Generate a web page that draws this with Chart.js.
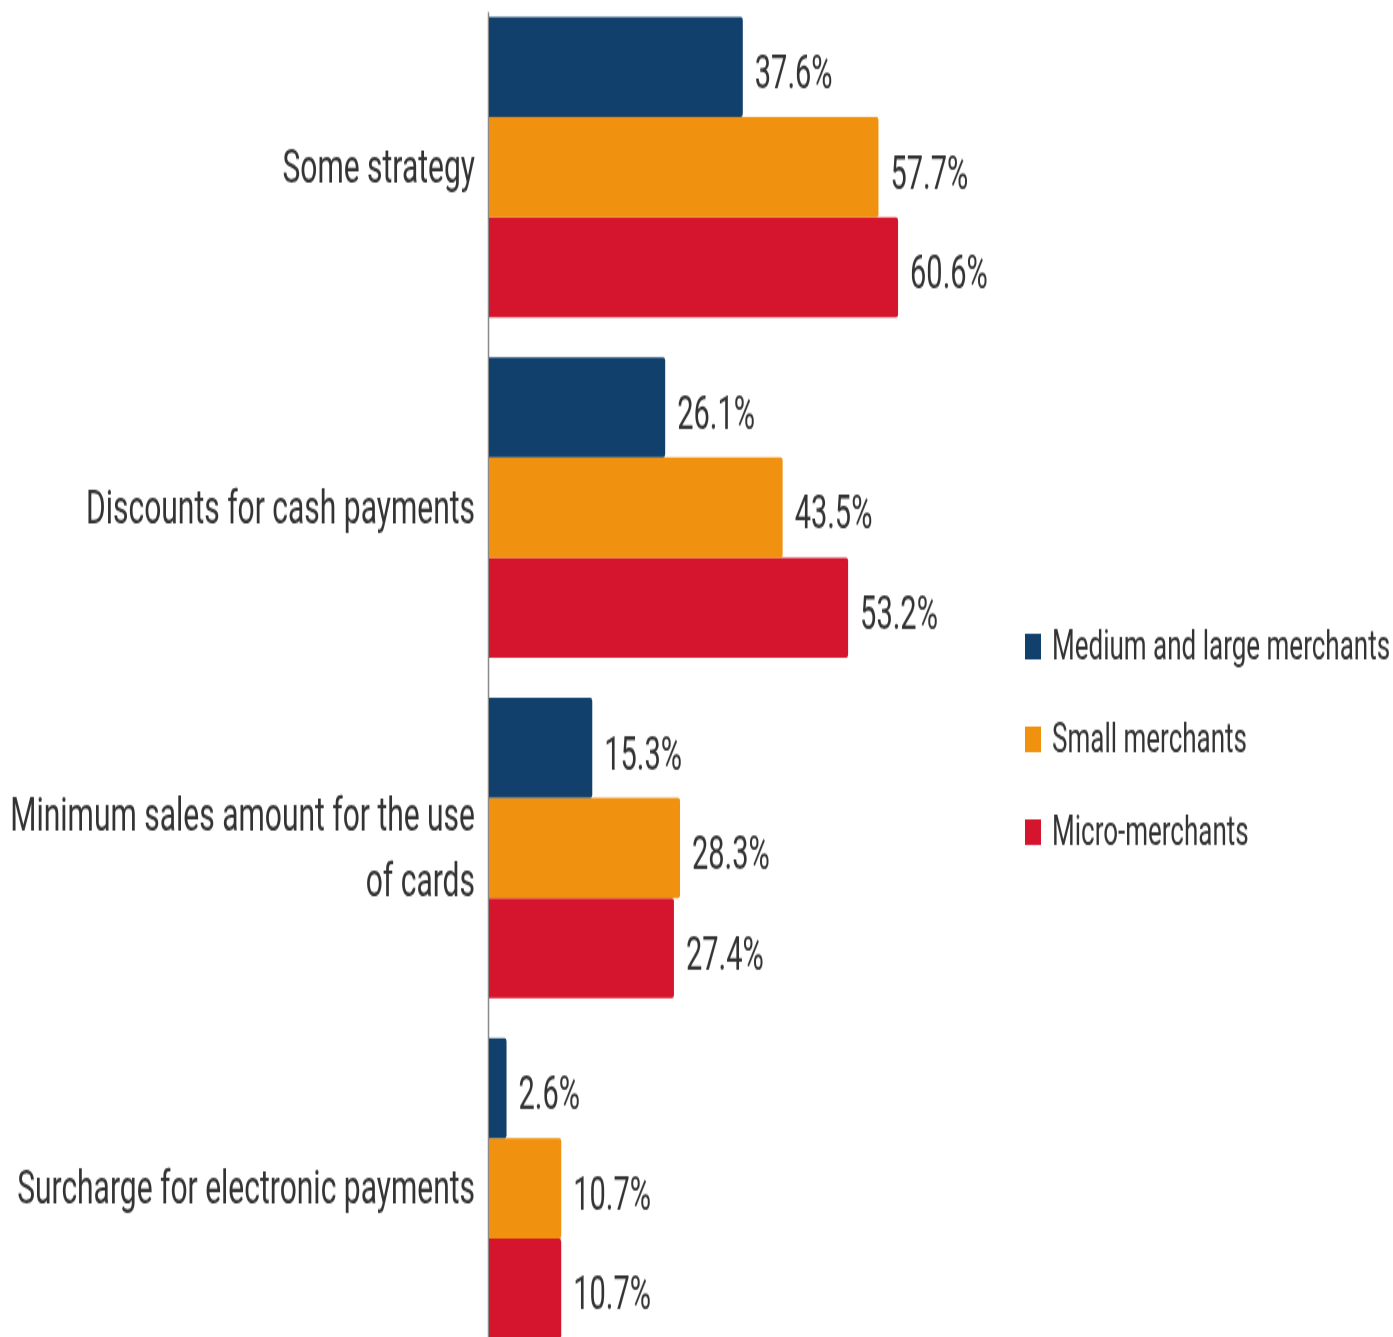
<!DOCTYPE html>
<html>
<head>
<meta charset="utf-8">
<title>Strategies by merchant size</title>
<script src="https://cdn.jsdelivr.net/npm/chart.js@4/dist/chart.umd.min.js"></script>
<style>
    html, body { margin: 0; padding: 0; background: #fff; overflow: hidden; }
    body { width: 1393px; height: 1337px; position: relative; }
    /* el lienzo se dibuja bajo y se estira en vertical */
    #wrap {
        position: absolute;
        left: 0;
        top: -3px;
        width: 1393px;
        height: 851px;
        transform: scaleY(1.6);
        transform-origin: 0 0;
    }
</style>
</head>
<body>
<div id="wrap"><canvas id="chart" width="1393" height="851"></canvas></div>
<script>
// ---- Datos ---------------------------------------------------------------

const categorias = [
    'Some strategy',
    'Discounts for cash payments',
    ['Minimum sales amount for the use', 'of cards'],
    'Surcharge for electronic payments'
];

const nombresSeries = ['Medium and large merchants', 'Small merchants', 'Micro-merchants'];

const medianosGrandes = [37.6, 26.1, 15.3, 2.6];
const pequenos        = [57.7, 43.5, 28.3, 10.7];
const micro           = [60.6, 53.2, 27.4, 10.7];

const colores = ['#11406d', '#f0910f', '#d5142d'];

const FUENTE = 'Roboto, "Noto Sans", sans-serif';
const TEXTO  = '#333333';

// ---- Plugins ------------------------------------------------------------

// Eje vertical gris a la izquierda de las barras
const ejePlugin = {
    id: 'eje',
    beforeDatasetsDraw(chart) {
        const { ctx, chartArea } = chart;
        ctx.save();
        ctx.strokeStyle = '#8a8a8a';
        ctx.lineWidth = 1.5;
        ctx.beginPath();
        ctx.moveTo(chartArea.left - 0.5, chartArea.top + 9.5);
        ctx.lineTo(chartArea.left - 0.5, chartArea.bottom);
        ctx.stroke();
        ctx.restore();
    }
};

// Etiqueta con el porcentaje al final de cada barra
const etiquetasPlugin = {
    id: 'etiquetas',
    afterDatasetsDraw(chart) {
        const { ctx } = chart;
        ctx.save();
        ctx.font = `29px ${FUENTE}`;
        ctx.fillStyle = TEXTO;
        ctx.textAlign = 'left';
        ctx.textBaseline = 'middle';
        chart.data.datasets.forEach((ds, i) => {
            chart.getDatasetMeta(i).data.forEach((bar, j) => {
                ctx.fillText(ds.data[j].toFixed(1) + '%', bar.x + 12, bar.y + 6);
            });
        });
        ctx.restore();
    }
};

// Leyenda vertical a la derecha
const leyendaPlugin = {
    id: 'leyenda',
    afterDraw(chart) {
        const { ctx, chartArea } = chart;
        const x = 1025;
        const y0 = chartArea.top + 406;
        const paso = 58;
        ctx.save();
        ctx.font = `26px ${FUENTE}`;
        ctx.textAlign = 'left';
        ctx.textBaseline = 'middle';
        chart.data.datasets.forEach((ds, i) => {
            const y = y0 + i * paso;
            ctx.fillStyle = ds.backgroundColor;
            ctx.fillRect(x, y - 8, 16, 16);
            ctx.fillStyle = TEXTO;
            ctx.fillText(ds.label, x + 27, y + 1);
        });
        ctx.restore();
    }
};

// ---- Gráfica ------------------------------------------------------------

const series = [medianosGrandes, pequenos, micro];

function dibujar() {
    const ctx = document.getElementById('chart').getContext('2d');
    new Chart(ctx, {
        type: 'bar',
        data: {
            labels: categorias,
            datasets: series.map((valores, i) => ({
                label: nombresSeries[i],
                data: valores,
                backgroundColor: colores[i],
                borderWidth: 0,
                borderRadius: 2,
                barPercentage: 1,
                categoryPercentage: 0.8815
            }))
        },
        options: {
            indexAxis: 'y',
            responsive: false,
            animation: false,
            events: [],
            layout: { padding: { left: 0, right: 364, top: 0, bottom: 0 } },
            plugins: {
                legend: { display: false },
                tooltip: { enabled: false }
            },
            scales: {
                x: {
                    display: false,
                    min: 0,
                    max: 80
                },
                y: {
                    grid: { display: false, drawTicks: false },
                    border: { display: false },
                    // ancho fijo y sin relleno extra arriba/abajo por las etiquetas
                    afterFit(scale) {
                        scale.width = 489;
                        scale.paddingTop = 0;
                        scale.paddingBottom = 0;
                    },
                    ticks: {
                        padding: 14,
                        labelOffset: 2,
                        color: TEXTO,
                        font: { family: FUENTE, size: 30, lineHeight: 1.35 }
                    }
                }
            }
        },
        plugins: [ejePlugin, etiquetasPlugin, leyendaPlugin]
    });
}

if (document.fonts && document.fonts.load) {
    Promise.all([
        document.fonts.load('30px Roboto'),
        document.fonts.load('26px Roboto')
    ]).then(dibujar, dibujar);
} else {
    dibujar();
}
</script>
</body>
</html>
